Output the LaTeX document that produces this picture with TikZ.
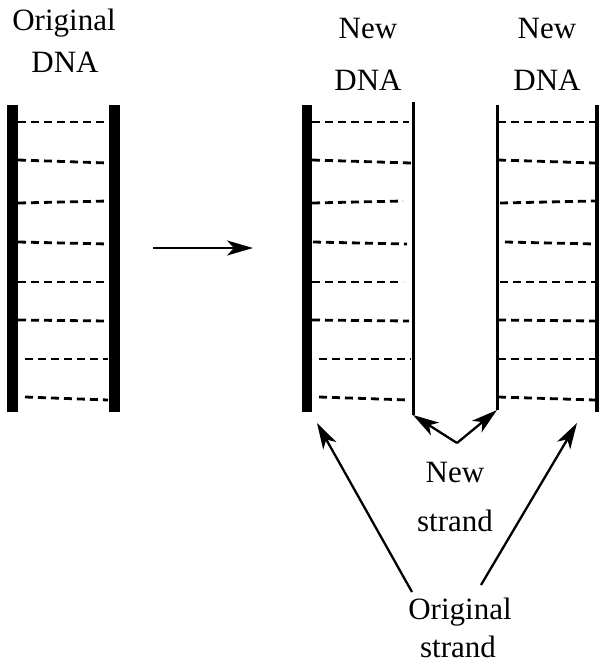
\documentclass[tikz,border=0pt]{standalone}
\usepackage{fontspec}
\setmainfont{Liberation Serif}
\usetikzlibrary{arrows.meta}
\begin{document}
\begin{tikzpicture}[x=1pt,y=-1pt,
  lbl/.style={font=\fontsize{31}{36}\selectfont, inner sep=0pt, anchor=base},
  bar/.style={fill=black},
  rung/.style={line width=2.8pt, dash pattern=on 8pt off 5pt},
  strandline/.style={line width=3pt},
  arr/.style={line width=2.3pt, -{Stealth[length=26pt,width=15pt,inset=7pt]}}]
\useasboundingbox (0,0) rectangle (599,665);

% labels
\node[lbl] (o1) at (64,30) {Original};
\node[lbl] (o2) at (65,72) {DNA};
\node[lbl] (n1a) at (368,38) {New};
\node[lbl] (n1b) at (368,90) {DNA};
\node[lbl] (n2a) at (547,38) {New};
\node[lbl] (n2b) at (547,90) {DNA};
\node[lbl] (ns1) at (455,482) {New};
\node[lbl] (ns2) at (455,531) {strand};
\node[lbl] (os1) at (460,619) {Original};
\node[lbl] (os2) at (458,657) {strand};

% original DNA
\fill[bar] (7,105) rectangle (18,412);
\fill[bar] (109,105) rectangle (120,412);
\foreach \a/\b/\s in {122/122/18, 160/163/18, 203/201/18, 242/244/18, 282/282/18, 320/321/18, 359/359/25, 397/400/25}
  \draw[rung] (\s,\a) -- (108,\b);

% new DNA 1
\fill[bar] (302,105) rectangle (312,412);
\draw[strandline] (413,102) -- (413,415);
\foreach \a/\b/\s/\e in {122/122/312/409, 160/163/312/411, 203/201/312/403, 242/244/313/407, 282/282/312/403, 320/321/312/409, 359/359/319/411, 397/400/319/409}
  \draw[rung] (\s,\a) -- (\e,\b);

% new DNA 2
\draw[strandline] (497,105) -- (497,410);
\fill[bar] (595,105) rectangle (599,412);
\foreach \a/\b/\s in {122/122/498, 160/163/498, 203/201/500, 242/244/505, 282/282/500, 320/321/498, 359/359/498, 397/400/498}
  \draw[rung] (\s,\a) -- (595,\b);

% main arrow
\coordinate (ma) at (153,248);
\coordinate (mb) at (253,248);
\draw[arr] (ma) -- (mb);

% new strand arrows
\coordinate (apex) at (457,443);
\coordinate (nsl) at (413,415);
\coordinate (nsr) at (497,410);
\draw[arr] (apex) -- (nsl);
\draw[arr] (apex) -- (nsr);

% original strand arrows
\coordinate (osl) at (412,592);
\coordinate (osr) at (481,585);
\coordinate (ol) at (317,423);
\coordinate (or) at (577,423);
\draw[arr] (osl) -- (ol);
\draw[arr] (osr) -- (or);
\end{tikzpicture}
\end{document}
